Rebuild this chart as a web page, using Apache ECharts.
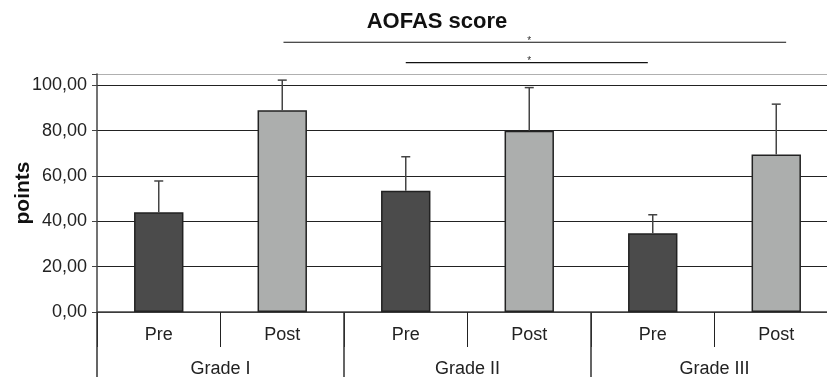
<!DOCTYPE html>
<html>
<head>
<meta charset="utf-8">
<script src="https://cdn.jsdelivr.net/npm/echarts@6/dist/echarts.min.js"></script>
<style>
html,body{margin:0;padding:0;background:#fff;}
#chart{width:827px;height:377px;}
</style>
</head>
<body>
<div id="chart"></div>
<script>
// ---- data ----
var categories = ['Pre', 'Post', 'Pre', 'Post', 'Pre', 'Post'];
var groups = ['Grade I', 'Grade II', 'Grade III'];
var means = [44.0, 89.0, 53.5, 80.0, 34.7, 69.5];
var sds = [13.8, 13.3, 15.0, 19.0, 8.2, 22.2];
var yTicks = [0, 20, 40, 60, 80, 100];
var yAxisName = 'points';
// significance brackets: [fromCategoryIndex, toCategoryIndex, yLevel]
var sigFrom = [1, 2];
var sigTo = [5, 4];
var sigLevel = [119, 110];
var sigLabel = ['*', '*'];

// ---- styles ----
var FONT = 'Liberation Sans, Arial, sans-serif';
var barColors = ['#4b4b4b', '#acaead'];

var chart = echarts.init(document.getElementById('chart'));

var option = {
  animation: false,
  backgroundColor: '#fff',
  title: {
    text: 'AOFAS score',
    left: 432,
    top: 6,
    textAlign: 'center',
    textStyle: { fontFamily: FONT, fontSize: 22, fontWeight: 'bold', color: '#111' }
  },
  grid: { left: 97, right: -11, top: 74, bottom: 65, containLabel: false, outerBoundsMode: 'none' },
  xAxis: [
    {
      type: 'category',
      data: categories,
      position: 'bottom',
      axisLine: { show: true, lineStyle: { color: '#444', width: 1.5 } },
      axisTick: { show: true, length: 35, interval: 0, lineStyle: { color: '#222', width: 1 } },
      axisLabel: { interval: 0, margin: 14, fontFamily: FONT, fontSize: 18, color: '#222' },
      splitLine: { show: false }
    },
    {
      type: 'category',
      data: groups,
      position: 'bottom',
      axisLine: { show: false },
      axisTick: { show: true, length: 65, interval: 0, lineStyle: { color: '#333', width: 1.5 } },
      axisLabel: { interval: 0, margin: 48, fontFamily: FONT, fontSize: 18, color: '#222' },
      splitLine: { show: false }
    }
  ],
  yAxis: {
    type: 'value',
    min: 0,
    max: 105,
    interval: 20,
    axisLine: { show: true, lineStyle: { color: '#444', width: 1.5 } },
    axisTick: { show: true, length: 5, lineStyle: { color: '#444' } },
    axisLabel: {
      margin: 10, fontFamily: FONT, fontSize: 18, color: '#222',
      formatter: function (v) { return yTicks.indexOf(v) >= 0 ? v.toFixed(2).replace('.', ',') : ''; }
    },
    splitLine: { show: true, lineStyle: { color: ['#222', '#222', '#222', '#222', '#222', '#222', '#b0b0b0'], width: 1.2 } }
  },
  series: [
    {
      type: 'bar',
      xAxisIndex: 0,
      barWidth: '40%',
      data: means.map(function (v, i) {
        return { value: v, itemStyle: { color: barColors[i % 2] } };
      }),
      itemStyle: { borderColor: '#222', borderWidth: 1.5 },
      z: 3
    },
    {
      type: 'custom',
      xAxisIndex: 0,
      data: means.map(function (v, i) { return [i, v, v + sds[i]]; }),
      z: 4,
      renderItem: function (params, api) {
        var lo = api.coord([api.value(0), api.value(1)]);
        var hi = api.coord([api.value(0), api.value(2)]);
        var cap = 4.5;
        var st = { stroke: '#444', lineWidth: 1.5 };
        return {
          type: 'group',
          children: [
            { type: 'line', shape: { x1: lo[0], y1: lo[1], x2: hi[0], y2: hi[1] }, style: st },
            { type: 'line', shape: { x1: hi[0] - cap, y1: hi[1], x2: hi[0] + cap, y2: hi[1] }, style: st }
          ]
        };
      }
    }
  ]
};

chart.setOption(option);

// annotations positioned from axis scales
function px(i) { return chart.convertToPixel({ xAxisIndex: 0 }, i); }
function py(v) { return chart.convertToPixel({ yAxisIndex: 0 }, v); }
var band = px(1) - px(0);
var g = [];
var xOffsets = [[0.01, 0.08], [0.0, -0.04]];
var starX = (px(sigFrom[1]) + px(sigTo[1])) / 2;
for (var k = 0; k < sigFrom.length; k++) {
  var x1 = px(sigFrom[k]) + xOffsets[k][0] * band;
  var x2 = px(sigTo[k]) + xOffsets[k][1] * band;
  var y = py(sigLevel[k]);
  g.push({ type: 'line', shape: { x1: x1, y1: y, x2: x2, y2: y }, style: { stroke: '#111', lineWidth: 1.2 } });
  g.push({ type: 'text', x: starX, y: y - 1.5, style: { text: sigLabel[k], font: '10px ' + FONT, fill: '#333', textAlign: 'center', textVerticalAlign: 'middle' } });
}
// y-axis title
var yMid = (py(0) + py(105)) / 2;
g.push({
  type: 'text', x: 23, y: yMid, rotation: Math.PI / 2,
  style: { text: yAxisName, font: 'bold 21px ' + FONT, fill: '#111', textAlign: 'center', textVerticalAlign: 'middle' }
});
chart.setOption({ graphic: g });
</script>
</body>
</html>
